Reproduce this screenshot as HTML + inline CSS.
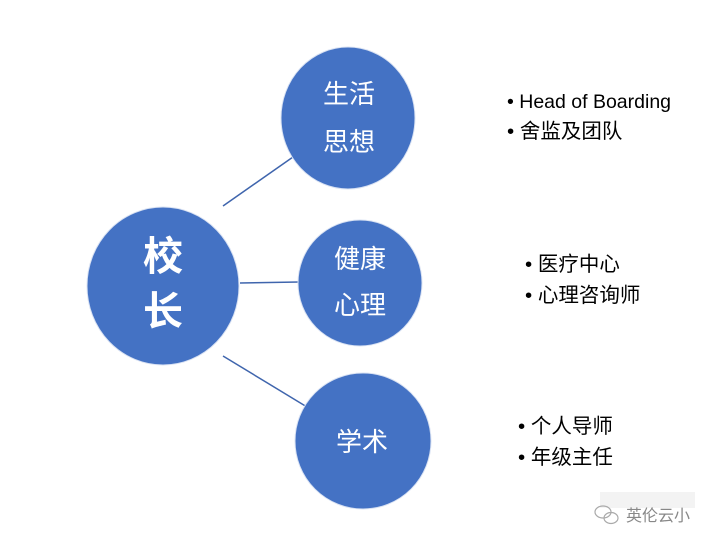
<!DOCTYPE html>
<html><head><meta charset="utf-8"><style>
body{margin:0;background:#fff;}
svg{display:block}
text{font-family:"Liberation Sans","Noto Sans CJK SC",sans-serif;}
</style></head><body>
<svg width="715" height="545" viewBox="0 0 715 545">
<g stroke="#3f65ad" stroke-width="1.5">
<line x1="223" y1="206" x2="293" y2="157"/>
<line x1="240" y1="283" x2="299" y2="282"/>
<line x1="223" y1="356" x2="307" y2="407"/>
</g>
<g fill="#4472c4" stroke="#d9e2f3" stroke-width="1">
<ellipse cx="163" cy="286" rx="76" ry="79"/>
<ellipse cx="348" cy="118" rx="67" ry="71"/>
<ellipse cx="360" cy="283" rx="62" ry="63"/>
<ellipse cx="363" cy="441" rx="68" ry="68"/>
</g>
<g fill="#fff" text-anchor="middle">
<text x="163" y="270" font-size="40" font-weight="bold">校</text>
<text x="163" y="325" font-size="40" font-weight="bold">长</text>
<text x="349" y="103" font-size="26">生活</text>
<text x="349" y="151" font-size="26">思想</text>
<text x="360" y="268" font-size="26">健康</text>
<text x="360" y="314" font-size="26">心理</text>
<text x="362" y="451" font-size="26">学术</text>
</g>
<g fill="#000" font-size="19.5">
<text x="507" y="108">• Head of Boarding</text>
<text x="507" y="138" font-size="20.5">• 舍监及团队</text>
<text x="525" y="271" font-size="20.5">• 医疗中心</text>
<text x="525" y="302" font-size="20.5">• 心理咨询师</text>
<text x="518" y="433" font-size="20.5">• 个人导师</text>
<text x="518" y="464" font-size="20.5">• 年级主任</text>
</g>
<rect x="600" y="492" width="95" height="16" fill="#f3f3f3"/>
<g fill="none" stroke="#aaa" stroke-width="1.2">
<ellipse cx="603" cy="512" rx="8" ry="6"/>
<ellipse cx="611" cy="518" rx="7" ry="5.5"/>
</g>
<text x="626" y="521" font-size="16" fill="#888">英伦云小</text>
</svg>
</body></html>
